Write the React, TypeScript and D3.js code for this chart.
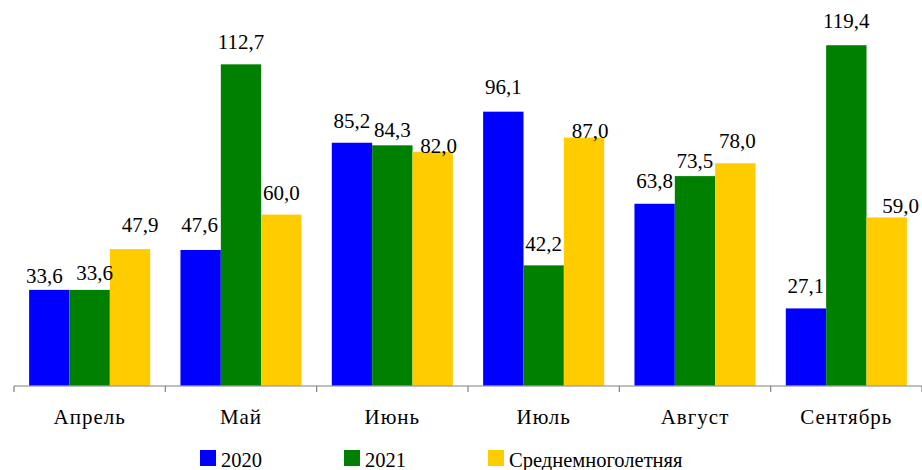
import React from "react";
import * as d3 from "d3";

const categories = ["Апрель", "Май", "Июнь", "Июль", "Август", "Сентябрь"];
const series2020 = [33.6, 47.6, 85.2, 96.1, 63.8, 27.1];
const series2021 = [33.6, 112.7, 84.3, 42.2, 73.5, 119.4];
const seriesAvg = [47.9, 60.0, 82.0, 87.0, 78.0, 59.0];
const seriesNames = ["2020", "2021", "Среднемноголетняя"];
const seriesColors = ["#0000ff", "#008000", "#ffcc00"];

// label placement nudges [dx, dy] per series per category (style only)
const nudge2020 = [[-5, 8], [-1, -3], [0, 0], [0, -3], [0, -1], [0, 0]];
const nudge2021 = [[5, 5], [0, 0], [0, 7], [0, 1], [0, 7], [0, -2]];
const nudgeAvg = [[10, -2], [0, 0], [6, 16], [6, 15], [2, 0], [14, 11]];

const W = 922;
const H = 470;
const textStyle = { fontFamily: "Liberation Serif" };

export default function App() {
  const seriesData = [series2020, series2021, seriesAvg];
  const nudges = [nudge2020, nudge2021, nudgeAvg];
  const x0 = d3.scaleBand<string>().domain(categories).range([14, 922]).paddingInner(0).paddingOuter(0);
  const x1 = d3
    .scaleBand<number>()
    .domain([0, 1, 2])
    .range([0, x0.bandwidth()])
    .paddingOuter(0.375)
    .paddingInner(0);
  const y = d3.scaleLinear().domain([0, 130]).range([385.7, 15]);
  const fmt = (v: number) => d3.format(".1f")(v).replace(".", ",");
  const ticks = d3.range(categories.length + 1).map((i) => 14 + i * x0.step());

  const legendX = [200, 344, 488];

  return (
    <svg width={W} height={H} style={{ position: "absolute", left: 0, top: 0, background: "#fff" }}>
      {categories.map((c, ci) => (
        <g key={c} transform={`translate(${x0(c)},0)`}>
          {seriesData.map((s, si) => (
            <rect
              key={si}
              x={x1(si)}
              y={y(s[ci])}
              width={x1.bandwidth()}
              height={y(0) - y(s[ci])}
              fill={seriesColors[si]}
            />
          ))}
          <text
            x={x0.bandwidth() / 2}
            y={424}
            textAnchor="middle"
            fontSize={21}
            fill="#000"
            style={{ ...textStyle, letterSpacing: "1px" }}
          >
            {c}
          </text>
        </g>
      ))}
      {categories.map((c, ci) => (
        <g key={"lab" + c} transform={`translate(${x0(c)},0)`}>
          {seriesData.map((s, si) => (
            <text
              key={"l" + si}
              x={(x1(si) as number) + x1.bandwidth() / 2 + nudges[si][ci][0]}
              y={y(s[ci]) - 15 + nudges[si][ci][1]}
              textAnchor="middle"
              fontSize={21}
              fill="#000"
              style={textStyle}
            >
              {fmt(s[ci])}
            </text>
          ))}
        </g>
      ))}
      <line x1={14} x2={922} y1={386} y2={386} stroke="#808080" strokeWidth={1.2} />
      {ticks.map((t, i) => (
        <line key={i} x1={t} x2={t} y1={386} y2={392} stroke="#808080" strokeWidth={1.2} />
      ))}
      {seriesNames.map((n, i) => (
        <g key={n}>
          <rect x={legendX[i]} y={450} width={16} height={16} fill={seriesColors[i]} />
          <text x={legendX[i] + 21} y={467} fontSize={20.5} fill="#000" style={textStyle}>
            {n}
          </text>
        </g>
      ))}
    </svg>
  );
}
